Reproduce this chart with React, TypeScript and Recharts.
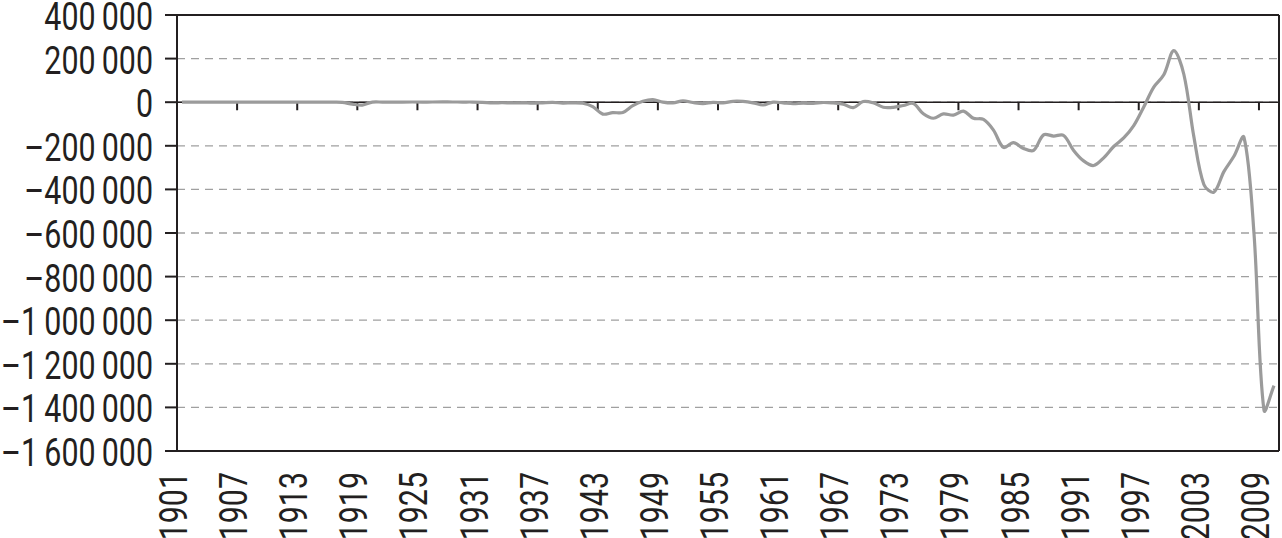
import { LineChart, Line, XAxis, YAxis, CartesianGrid, ReferenceLine } from 'recharts'

// federal budget balance, millions of dollars, one value per year from 1901
const FIRST_YEAR = 1901
const balance = [
  63, 77, 45, -43, -23, 25, 87, -57, -89, -18,
  11, 3, 0, 0, -63, 48, -853, -9032, -13363, 291,
  509, 736, 713, 963, 717, 865, 1155, 939, 734, 738,
  -462, -2735, -2602, -3630, -2791, -4425, -2777, -1177, -3862, -2920,
  -4941, -20503, -54554, -47557, -47553, -15936, 4018, 11796, 580, -3119,
  6102, -1519, -6493, -1154, -2993, 3947, 3412, -2769, -12849, 301,
  -3335, -7146, -4756, -5915, -1411, -3698, -8643, -25161, 3242, -2842,
  -23033, -23373, -14908, -6135, -53242, -73732, -53659, -59185, -40726, -73830,
  -78968, -127977, -207802, -185367, -212308, -221227, -149730, -155178, -152639, -221036,
  -269238, -290321, -255051, -203186, -163952, -107431, -21884, 69270, 125610, 236241,
  128236, -157758, -377585, -412727, -318346, -248181, -160701, -600000, -1412686, -1300000
]

const yearLabels = [1901, 1907, 1913, 1919, 1925, 1931, 1937, 1943, 1949, 1955, 1961, 1967, 1973, 1979, 1985, 1991, 1997, 2003, 2009]
const yTicks = [400000, 200000, 0, -200000, -400000, -600000, -800000, -1000000, -1200000, -1400000, -1600000]

const data = balance.map((v, i) => ({ year: FIRST_YEAR + i, value: v }))
// ticks sit on the boundary before each labelled year
const xTicks = yearLabels.map((y) => y - 0.5)
const lastEdge = FIRST_YEAR + balance.length - 0.5

const FONT = "Roboto, 'Liberation Sans', sans-serif"
const INK = '#231f20'
const NARROW = 0.8
const ZERO_TICK_DEPTH = 37000

// spreadsheet-style smoothing: bezier with chord-weighted tangents
function smoothCurve(context: any) {
  let pts: number[][] = []
  return {
    areaStart() {},
    areaEnd() {},
    lineStart() {
      pts = []
    },
    point(x: number, y: number) {
      pts.push([+x, +y])
    },
    lineEnd() {
      const n = pts.length
      if (!n) return
      context.moveTo(pts[0][0], pts[0][1])
      const dist = (a: number[], b: number[]) => Math.hypot(b[0] - a[0], b[1] - a[1])
      const ctrl = (i: number, forward: boolean) => {
        const p = pts[i]
        const prev = pts[Math.max(i - 1, 0)]
        const next = pts[Math.min(i + 1, n - 1)]
        const dPrev = dist(prev, p)
        const dNext = dist(p, next)
        const sum = dPrev + dNext || 1
        const f = ((forward ? dNext : dPrev) / sum) / 3
        const s = forward ? 1 : -1
        return [p[0] + s * (next[0] - prev[0]) * f, p[1] + s * (next[1] - prev[1]) * f]
      }
      for (let i = 0; i < n - 1; i++) {
        const c1 = ctrl(i, true)
        const c2 = ctrl(i + 1, false)
        context.bezierCurveTo(c1[0], c1[1], c2[0], c2[1], pts[i + 1][0], pts[i + 1][1])
      }
    }
  }
}

function formatValue(v: number): string {
  const s = Math.abs(v).toString().replace(/\B(?=(\d{3})+(?!\d))/g, '\u2009')
  return v < 0 ? '\u2013' + s : s
}

function YTick({ x, y, payload }: any) {
  return (
    <text
      transform={`translate(${x} ${y}) scale(${NARROW} 1)`}
      dy={15}
      textAnchor="end"
      fontSize={38}
      fontFamily={FONT}
      fill={INK}
    >
      {formatValue(payload.value)}
    </text>
  )
}

function XTick({ x, y, payload }: any) {
  return (
    <text
      transform={`translate(${x} ${y}) rotate(-90) scale(${NARROW} 1)`}
      dy={10}
      textAnchor="end"
      fontSize={38}
      fontFamily={FONT}
      fill={INK}
    >
      {Math.round(payload.value + 0.5)}
    </text>
  )
}

export default function App() {
  return (
    <div style={{ position: 'absolute', left: 0, top: 0, width: 1282, height: 538, background: '#fff' }}>
      <LineChart width={1282} height={538} data={data} margin={{ top: 15, right: 3, left: 0, bottom: 0 }}>
        <CartesianGrid vertical={false} stroke="#a0a0a0" strokeDasharray="8 6" strokeWidth={1.3} />
        <XAxis
          dataKey="year"
          type="number"
          domain={[FIRST_YEAR - 0.5, lastEdge]}
          ticks={xTicks}
          interval={0}
          height={87}
          tickLine={false}
          tickSize={6}
          tickMargin={15}
          axisLine={{ stroke: INK, strokeWidth: 2 }}
          tick={<XTick />}
        />
        <YAxis
          type="number"
          domain={[-1600000, 400000]}
          ticks={yTicks}
          interval={0}
          width={177}
          tickSize={12}
          tickMargin={12}
          tickLine={{ stroke: INK, strokeWidth: 2 }}
          axisLine={{ stroke: INK, strokeWidth: 2 }}
          tick={<YTick />}
        />
        <ReferenceLine y={400000} stroke={INK} strokeWidth={2} />
        <ReferenceLine x={lastEdge} stroke={INK} strokeWidth={2} />
        <ReferenceLine y={0} stroke={INK} strokeWidth={1.6} />
        {xTicks.slice(1).map((t) => (
          <ReferenceLine
            key={t}
            segment={[{ x: t, y: 0 }, { x: t, y: -ZERO_TICK_DEPTH }]}
            stroke={INK}
            strokeWidth={2}
          />
        ))}
        <Line
          type={smoothCurve as any}
          dataKey="value"
          stroke="#9b9b9b"
          strokeWidth={3.2}
          dot={false}
          activeDot={false}
          isAnimationActive={false}
        />
      </LineChart>
    </div>
  )
}
